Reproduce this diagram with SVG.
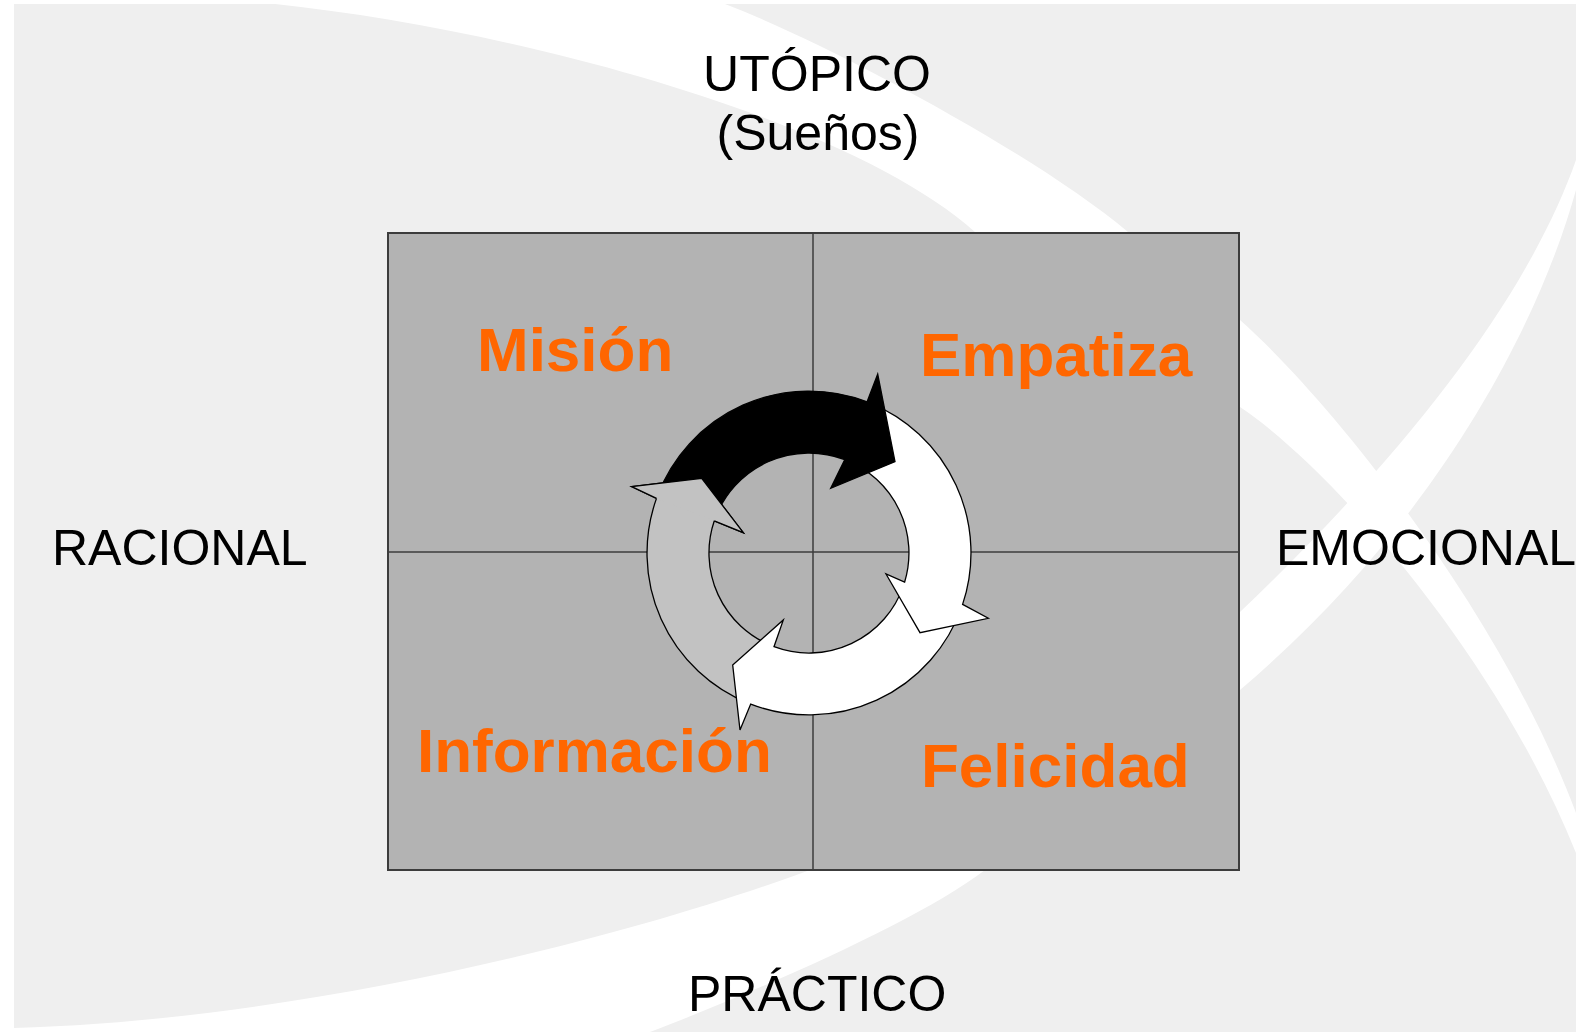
<svg xmlns="http://www.w3.org/2000/svg" width="1576" height="1032" viewBox="0 0 1576 1032">
<style>
.axis{font-family:"Liberation Sans",Arial,sans-serif;font-size:50px;fill:#000}
.quad{font-family:"Liberation Sans",Arial,sans-serif;font-size:62px;font-weight:bold;fill:#ff6600}
.arr{stroke:#000;stroke-width:1.3;stroke-linejoin:miter}
.band{fill:#fff}
</style>
<g id="background">
<rect x="0" y="0" width="1576" height="1032" fill="#fff"/>
<rect x="14" y="4" width="1562" height="1028" fill="#efefef"/>
<path class="band" d="M275,4 C520,30 850,120 975,232 C1080,310 1080,720 810,870 C620,940 300,1020 14,1028 L14,1032 L650,1032 C760,990 920,920 985,870 C1220,700 1230,330 1128,232 C1030,150 820,40 725,4 Z"/>
<path class="band" d="M1576,160 C1530,290 1420,440 1240,612 L1100,720 L1100,800 L1240,690 C1440,520 1540,320 1576,190 Z"/>
<path class="band" d="M1150,250 L1240,320 C1330,400 1500,610 1576,813 L1576,853 C1490,640 1320,460 1240,407 L1150,330 Z"/>
</g>
<g id="matrix">
<rect x="388" y="233" width="851" height="637" fill="#b3b3b3" stroke="#3c3c3c" stroke-width="2"/>
<line x1="813" y1="233" x2="813" y2="870" stroke="#3c3c3c" stroke-width="1.5"/>
<line x1="388" y1="552" x2="1239" y2="552" stroke="#3c3c3c" stroke-width="1.5"/>
</g>
<g id="connectors">
<path id="arrow-gray" class="arr" fill="#c2c2c2" d="M748.3,703.2 A162,162 0 0 1 656.5,498.4 L631.7,486.7 L701.7,478.3 L743.3,532.7 L714.3,520.8 A100,100 0 0 0 771.5,645.7 Z"/>
<path id="arrow-white-bottom" class="arr" fill="#fff" d="M961.7,607.1 A162,162 0 0 1 750.7,704.1 L740,730 L732.7,665 L783.3,620 L774,646.7 A100,100 0 0 0 903.3,586.4 Z"/>
<path id="arrow-white-right" class="arr" fill="#fff" d="M869.7,402.8 A162,162 0 0 1 962.6,604.4 L988.3,618.3 L920,632.7 L886,574 L904.6,582.2 A100,100 0 0 0 846.5,460.3 Z"/>
<path id="arrow-black" class="arr" fill="#000" d="M657.5,495.7 A162,162 0 0 1 867.1,401.8 L877.7,374 L895,461.7 L830.7,488.3 L844.8,459.6 A100,100 0 0 0 715.5,517.6 Z"/>
<polygon fill="#c2c2c2" points="656.5,498.4 631.7,486.7 701.7,478.3 743.3,532.7 714.3,520.8"/>
<polyline fill="none" class="arr" points="656.5,498.4 631.7,486.7 701.7,478.3 743.3,532.7 714.3,520.8"/>
</g>
<g id="node-utopico"><text class="axis" x="817" y="91" text-anchor="middle">UTÓPICO</text><text class="axis" x="818" y="150" text-anchor="middle">(Sueños)</text></g>
<g id="node-practico"><text class="axis" x="688" y="1011">PRÁCTICO</text></g>
<g id="node-racional"><text class="axis" x="52" y="565">RACIONAL</text></g>
<g id="node-emocional"><text class="axis" x="1276" y="565">EMOCIONAL</text></g>
<g id="node-mision"><text class="quad" x="477" y="371">Misión</text></g>
<g id="node-empatiza"><text class="quad" x="920" y="376">Empatiza</text></g>
<g id="node-informacion"><text class="quad" x="417" y="772">Información</text></g>
<g id="node-felicidad"><text class="quad" x="921" y="787">Felicidad</text></g>
</svg>
